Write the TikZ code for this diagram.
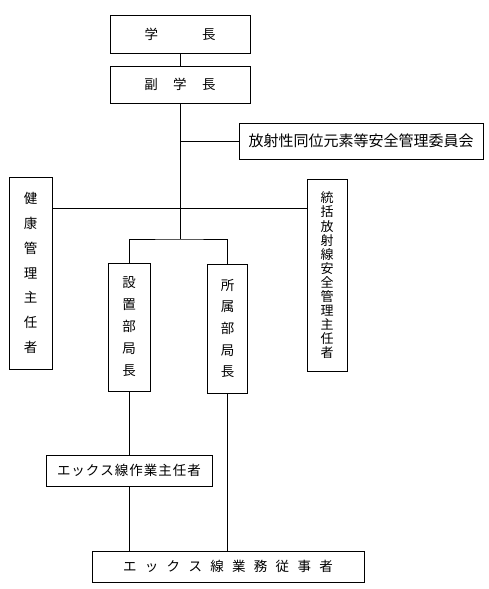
\documentclass[tikz,border=0pt]{standalone}
\usepackage{fontspec}
\newfontfamily\jpfont{Noto Sans CJK JP}
\begin{document}
\begin{tikzpicture}[x=1pt,y=-1pt,
  box/.style={draw,line width=1pt,inner sep=0pt,align=center},
  conn/.style={line width=1pt},
  hfont/.style={font=\jpfont\fontsize{13.5}{16}\selectfont}]
\useasboundingbox (0,0) rectangle (489,589);
\fill[white] (0,0) rectangle (489,589);
% boxes
\node[box,hfont,minimum width=140pt,minimum height=38pt] (gaku) at (180,34) {学\hspace{44pt}長};
\node[box,hfont,minimum width=140pt,minimum height=37pt] (fuku) at (180,84.5) {副\hspace{15.5pt}学\hspace{15.5pt}長};
\node[box,font=\jpfont\fontsize{15}{18}\selectfont,minimum width=244pt,minimum height=36pt] (iin) at (361,141) {放射性同位元素等安全管理委員会};
\node[box,font=\jpfont\fontsize{13.5}{24.8}\selectfont,minimum width=43pt,minimum height=192pt] (kenko) at (30.5,273) {健\\康\\管\\理\\主\\任\\者};
\node[box,font={\jpfont\fontsize{13}{14.1}\selectfont\lineskiplimit-20pt},minimum width=40pt,minimum height=192pt] (tokatsu) at (327,275.5) {統\\括\\放\\射\\線\\安\\全\\管\\理\\主\\任\\者};
\node[box,font=\jpfont\fontsize{13.5}{22}\selectfont,minimum width=42pt,minimum height=128pt] (setchi) at (129,327) {設\\置\\部\\局\\長};
\node[box,font=\jpfont\fontsize{13.5}{21.7}\selectfont,minimum width=40pt,minimum height=129pt] (shozoku) at (227.5,328.5) {所\\属\\部\\局\\長};
\node[box,hfont,minimum width=166pt,minimum height=31pt] (xchief) at (129,470.5) {エ\hspace{1pt}ッ\hspace{1pt}ク\hspace{1pt}ス\hspace{1pt}線\hspace{1pt}作\hspace{1pt}業\hspace{1pt}主\hspace{1pt}任\hspace{1pt}者};
\node[box,hfont,minimum width=272pt,minimum height=31pt] (xworker) at (228,566.5) {エ\hspace{8.3pt}ッ\hspace{8.3pt}ク\hspace{8.3pt}ス\hspace{8.3pt}線\hspace{8.3pt}業\hspace{8.3pt}務\hspace{8.3pt}従\hspace{8.3pt}事\hspace{8.3pt}者};
% junctions
\coordinate (j1) at (180,141);
\coordinate (j2) at (180,208);
\coordinate (j3) at (180,239);
% connectors
\draw[conn] (gaku) -- (fuku);
\draw[conn] (fuku.south) -- (j3);
\draw[conn] (j1) -- (iin.west);
\draw[conn] (kenko.east |- j2) -- (tokatsu.west |- j2);
\draw[conn] (setchi.north) |- (j3) -| (shozoku.north);
\draw[conn] (setchi.south) -- (xchief.north);
\draw[conn] (xchief.south) -- (xchief.south |- xworker.north);
\draw[conn] (shozoku.south) -- (shozoku.south |- xworker.north);
\end{tikzpicture}
\end{document}
